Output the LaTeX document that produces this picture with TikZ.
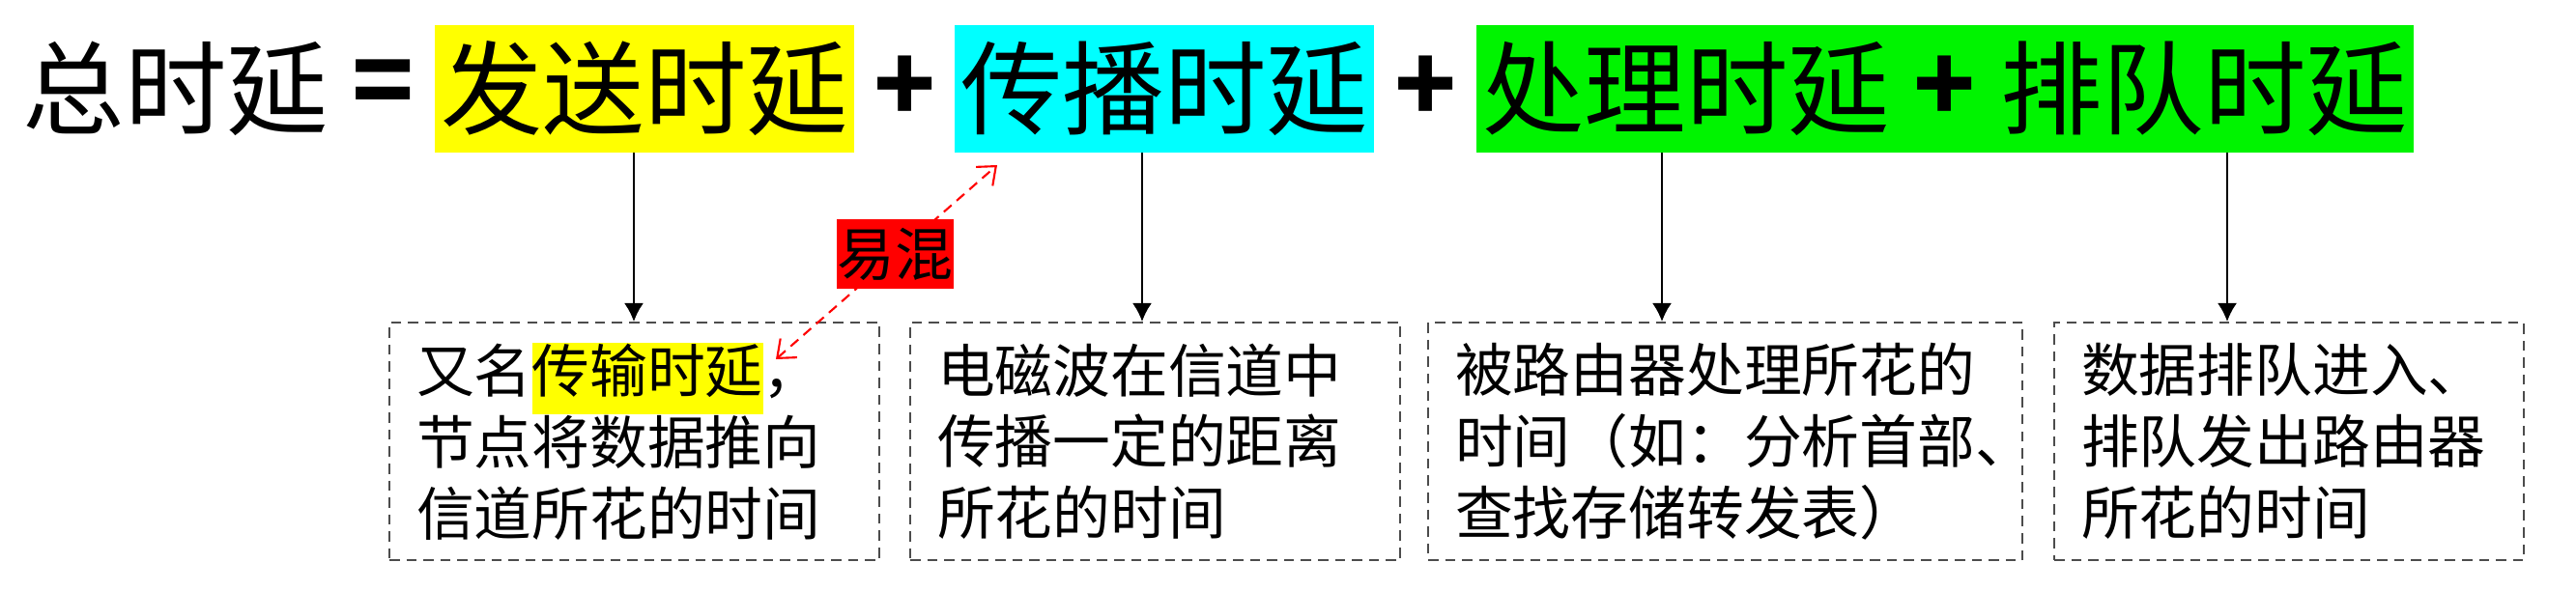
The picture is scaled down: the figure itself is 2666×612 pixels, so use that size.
\documentclass[tikz,border=0pt]{standalone}
\usepackage{fontspec}
\newfontfamily\cjk{Noto Sans CJK SC}
\usetikzlibrary{arrows.meta, calc}

\definecolor{sendcol}{HTML}{FFFF00}
\definecolor{propcol}{HTML}{00FFFF}
\definecolor{proccol}{HTML}{00F400}
\definecolor{mixcol}{HTML}{FF0000}
\newcommand\hilite[1]{{\setlength{\fboxsep}{0pt}\colorbox{sendcol}{\strut #1}}}

\tikzset{
  big/.style={font=\cjk\fontsize{30}{36}\selectfont, inner sep=0pt, minimum height=1.31cm},
  term/.style={big, minimum width=4.33cm},
  sign/.style={font=\cjk\bfseries\fontsize{30}{36}\selectfont, inner sep=0pt},
  note/.style={draw=black!70, dash pattern=on 3pt off 2pt, line width=0.6pt, anchor=north west,
    minimum height=2.46cm, inner xsep=0.28cm, align=left, font=\cjk\fontsize{17}{21}\selectfont},
  flow/.style={-{Latex[length=1.9mm,width=2mm]}, line width=0.6pt},
  mixed/.style={mixcol, dash pattern=on 3pt off 2pt, line width=0.6pt,
    {Straight Barb[length=1.6mm,width=2.6mm]}-{Straight Barb[length=1.6mm,width=2.6mm]}},
  mixbox/.style={fill=mixcol, text=black, inner sep=0pt, minimum width=1.21cm, minimum height=0.72cm,
    font=\cjk\fontsize{17}{17}\selectfont}
}

\begin{document}
\begin{tikzpicture}[x=0.01cm, y=-0.01cm]
\useasboundingbox (0,0) rectangle (2666,612);

%the formula
\node [big] (total) at (182,92) {总时延};
\node [sign] (eq) at (397,92) {=};
\node [term, fill=sendcol] (send) at (667,92) {发送时延};
\node [sign] (plus1) at (937,92) {+};
\node [term, fill=propcol] (prop) at (1205,92) {传播时延};
\node [sign] (plus2) at (1476,92) {+};
\node [term, fill=proccol] (proc) at (1745,92) {处理时延};
\node [big, fill=proccol, minimum width=1.03cm] (plus3) at (2013,92) {\bfseries +};
\node [term, fill=proccol] (queue) at (2281,92) {排队时延};

%the notes
\node [note, text width=4.51cm] (box1) at (402,333) {又名\hilite{传输时延}，\\节点将数据推向\\信道所花的时间};
\node [note, text width=4.51cm] (box2) at (941,333) {电磁波在信道中\\传播一定的距离\\所花的时间};
\node [note, text width=5.59cm] (box3) at (1477,333) {被路由器处理所花的\\时间（如：分析首部、\\查找存储转发表）};
\node [note, text width=4.30cm] (box4) at (2125,333) {数据排队进入、\\排队发出路由器\\所花的时间};

%the arrows
\coordinate (a1) at (656,0);
\coordinate (a2) at (1182,0);
\coordinate (a3) at (1720,0);
\coordinate (a4) at (2305,0);
\draw [flow] (send.south -| a1) -- (a1 |- box1.north);
\draw [flow] (prop.south -| a2) -- (a2 |- box2.north);
\draw [flow] (proc.south -| a3) -- (a3 |- box3.north);
\draw [flow] (queue.south -| a4) -- (a4 |- box4.north);

%easy to mix up
\coordinate (w) at (803,372);
\coordinate (v) at (1032,171);
\draw [mixed] (w) -- node [mixbox, pos=0.54] (mix) {易混} (v);
\end{tikzpicture}
\end{document}
